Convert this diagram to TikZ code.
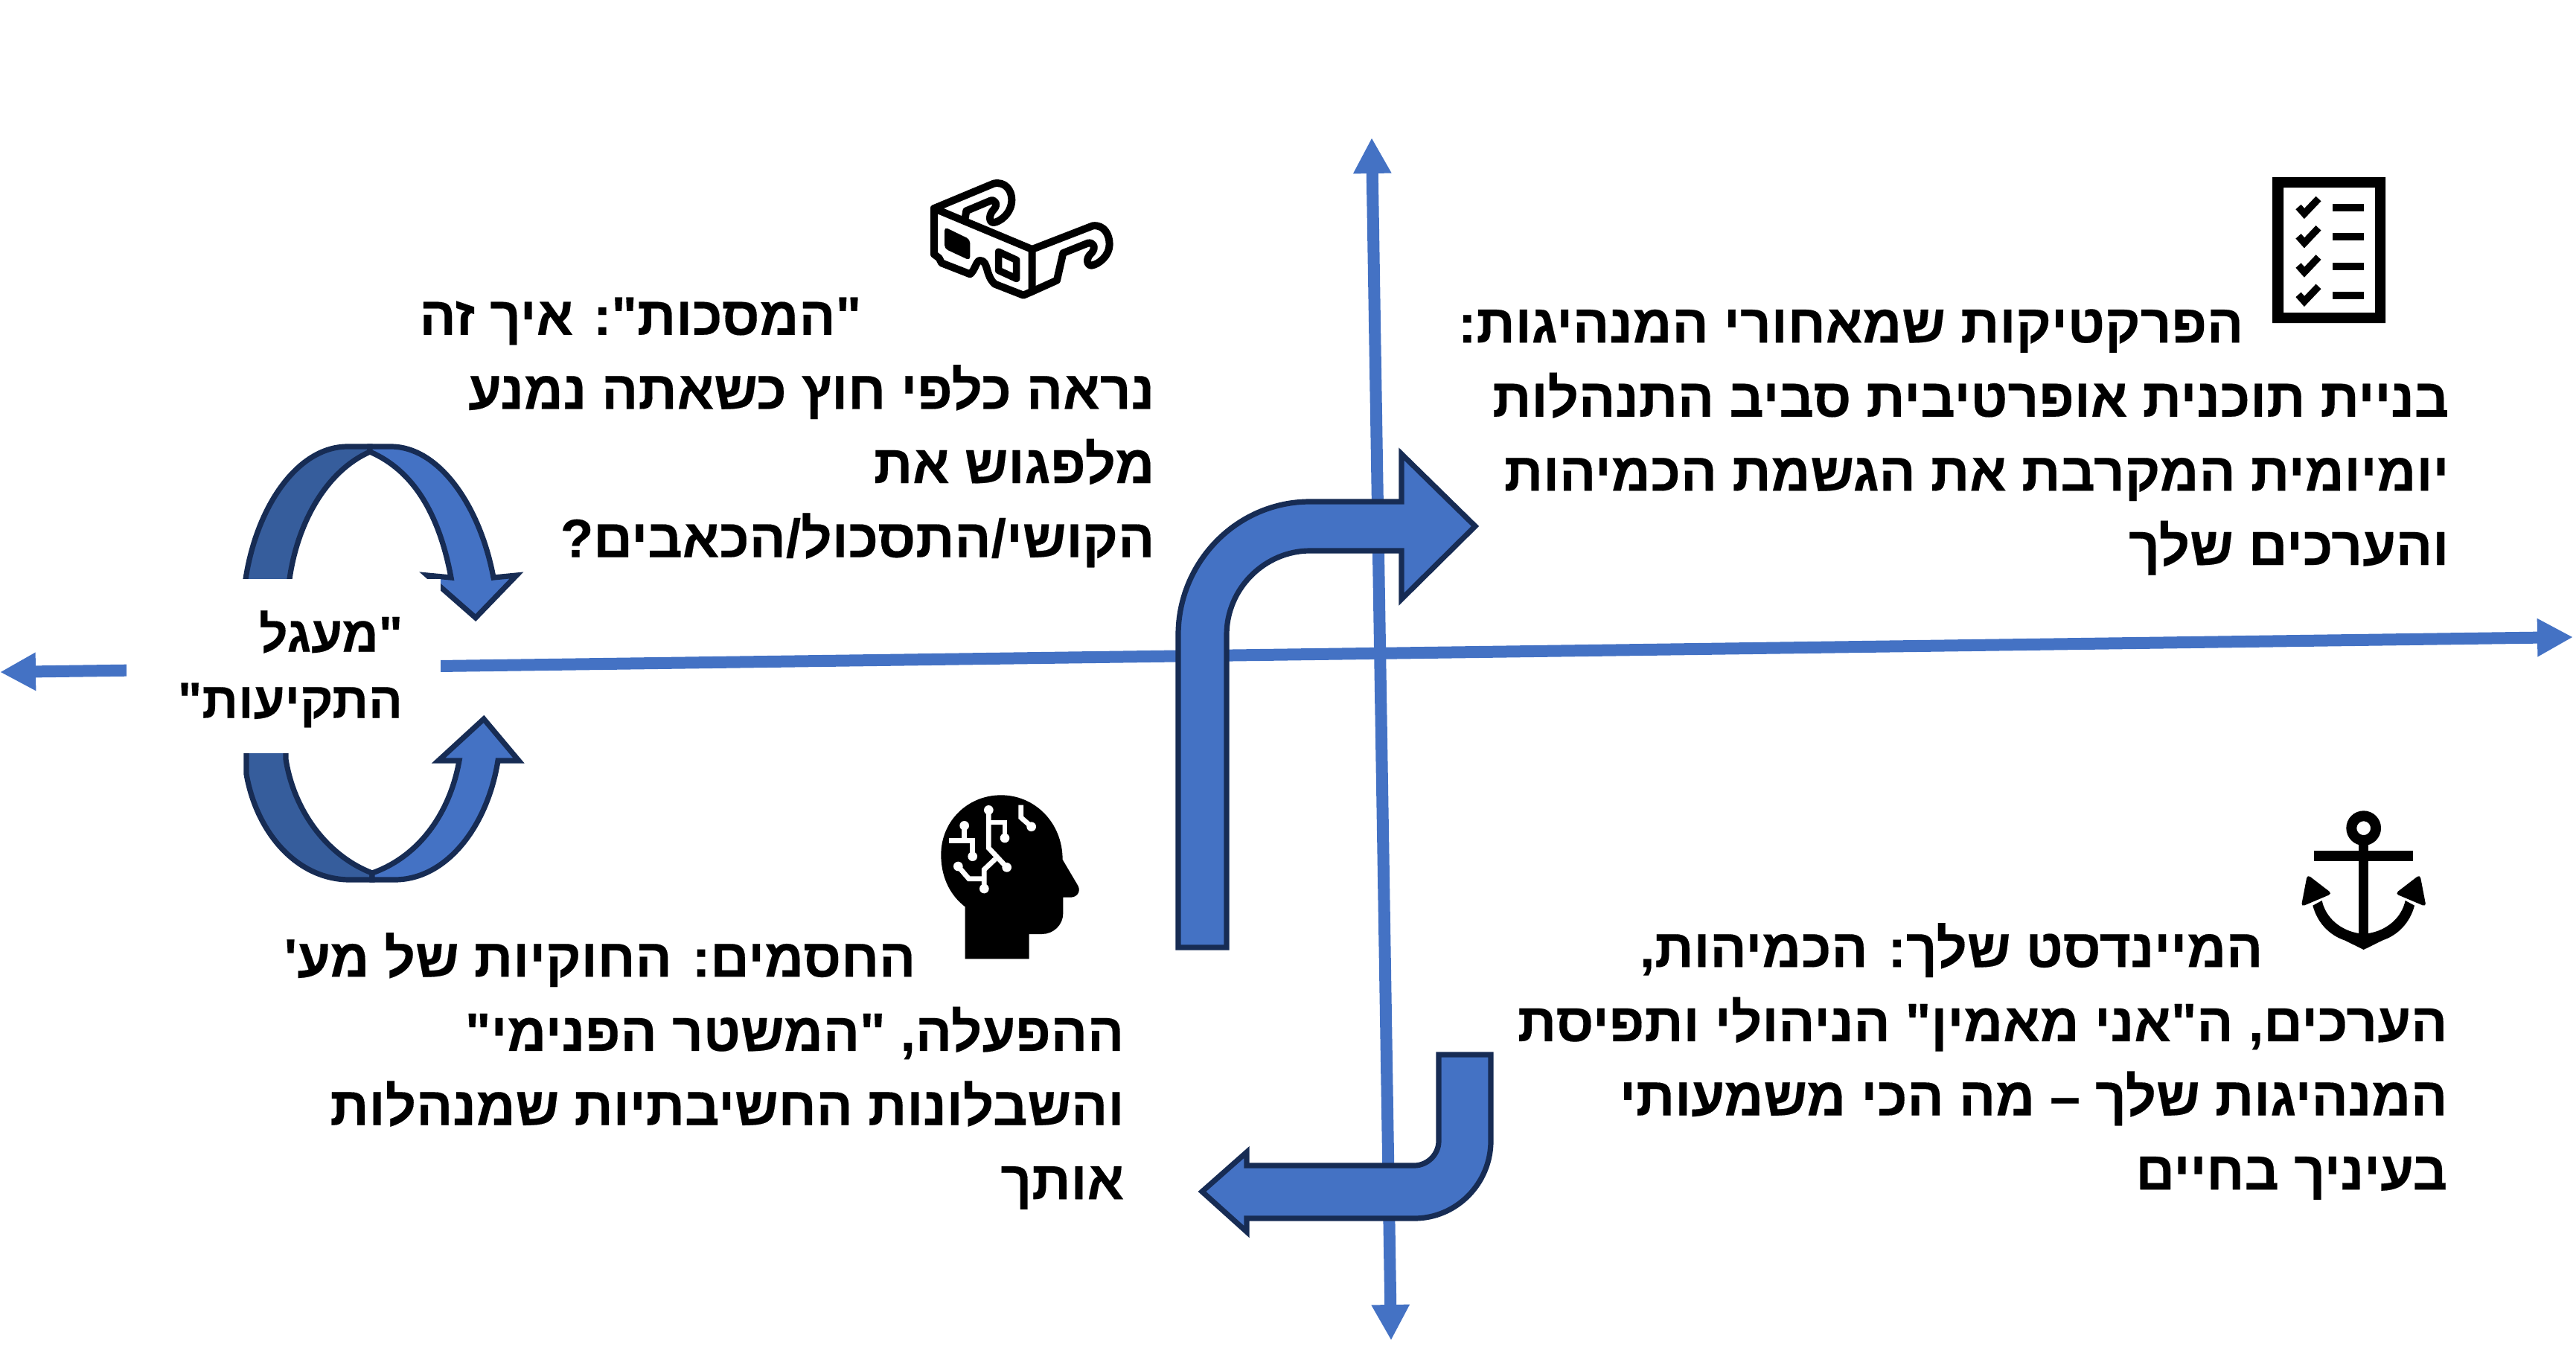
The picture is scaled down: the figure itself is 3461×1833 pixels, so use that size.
\documentclass[tikz,border=0pt]{standalone}
\usepackage{fontspec}
\usetikzlibrary{arrows.meta}
\TeXXeTstate=1
\newfontfamily\hebfont[Script=Hebrew, BoldFeatures={FakeBold=0.25}]{Liberation Sans}
\newcommand{\hebline}[1]{\beginR #1\endR}
\definecolor{axisblue}{HTML}{4472C4}
\definecolor{edgeblue}{HTML}{172C54}
\definecolor{darkblue}{HTML}{365D9C}
\tikzstyle{axisline} =
        [
                draw = axisblue,
                line width = 4pt,
                {Triangle[length = 12pt, width = 12pt]}-{Triangle[length = 12pt, width = 12pt]}
        ]
\tikzstyle{bigarrow} =
        [
                draw = edgeblue,
                fill = axisblue,
                line width = 1.8pt,
                miter limit = 10
        ]
\tikzstyle{backband} =
        [
                bigarrow,
                fill = darkblue
        ]
\tikzstyle{block} =
        [
                rectangle,
                align = right,
                anchor = east,
                inner sep = 0pt,
                font = \hebfont\bfseries\fontsize{18.2}{24.9}\selectfont
        ]
\tikzstyle{loopbox} =
        [
                rectangle,
                fill = white,
                align = right,
                text width = 80pt,
                inner sep = 0pt,
                minimum width = 105.5pt,
                minimum height = 58.5pt,
                font = \hebfont\bfseries\fontsize{17}{22.2}\selectfont
        ]
\tikzstyle{inkline} =
        [
                draw = black,
                line width = 2.5pt,
                line join = round,
                line cap = round
        ]

\begin{document}
\begin{tikzpicture}[x = 0.25pt, y = -0.25pt]
        \useasboundingbox (0,0) rectangle (3461,1833);

        \coordinate (westtip) at (0,903);
        \coordinate (easttip) at (3457,856);
        \coordinate (northtip) at (1843,185);
        \coordinate (southtip) at (1869,1801);

        \path [axisline] (westtip) -- (easttip);
        \path [axisline] (northtip) -- (southtip);

        % upper loop
        \path [backband] (330,830) -- (330,778) .. controls (345,680) and (400,600) .. (467,600) -- (497,600) -- (497,607) .. controls (440,632) and (400,700) .. (389,778) -- (389,830) -- cycle;
        \path [bigarrow] (497,607) -- (497,600) -- (525,600) .. controls (590,600) and (645,680) .. (663,776) -- (694,773) -- (639,830) -- (574,773) -- (606,776) .. controls (590,690) and (555,632) .. (497,607) -- cycle;
        % lower loop
        \path [backband] (331,980) -- (331,1040) .. controls (345,1120) and (400,1182) .. (470,1182) -- (500,1182) -- (500,1173) .. controls (440,1150) and (395,1090) .. (384,1020) -- (384,980) -- cycle;
        \path [bigarrow] (500,1173) -- (500,1182) -- (530,1182) .. controls (600,1182) and (655,1110) .. (669,1022) -- (697,1022) -- (650,966) -- (589,1022) -- (617,1022) .. controls (605,1090) and (565,1150) .. (500,1173) -- cycle;

        \node [loopbox] (stuckloop) at (381,894.5) {\rule{0pt}{16pt}\hebline{"מעגל}\\\hebline{התקיעות"}};

        % big arrows
        \path [bigarrow] (1583,1273) -- (1583,853) .. controls (1583,755) and (1662,674) .. (1760,674) -- (1883,674) -- (1883,610) -- (1982,707) -- (1883,805) -- (1883,740) -- (1760,740) .. controls (1700,740) and (1648,790) .. (1648,853) -- (1648,1273) -- cycle;
        \path [bigarrow] (2003,1417) -- (2003,1533) .. controls (2003,1590) and (1957,1637) .. (1900,1637) -- (1675,1637) -- (1675,1655) -- (1615,1601) -- (1675,1548) -- (1675,1566) -- (1900,1566) .. controls (1918,1566) and (1933,1551) .. (1933,1533) -- (1933,1417) -- cycle;

        \node [block] (lenses) at (1552,581) {\hebline{"המסכות": איך זה}\hspace*{98.5pt}\\\hebline{נראה כלפי חוץ כשאתה נמנע}\\\hebline{מלפגוש את}\\\hebline{הקושי/התסכול/הכאבים?}};
        \node [block] (practices) at (3291,594) {\hebline{הפרקטיקות שמאחורי המנהיגות:}\hspace*{69pt}\\\hebline{בניית תוכנית אופרטיבית סביב התנהלות}\\\hebline{יומיומית המקרבת את הגשמת הכמיהות}\\\hebline{והערכים שלך}};
        \node [block] (mindset) at (3289,1426) {\hebline{המיינדסט שלך: הכמיהות,}\hspace*{62pt}\\\hebline{הערכים, ה"אני מאמין" הניהולי ותפיסת}\\\hebline{המנהיגות שלך – מה הכי משמעותי}\\\hebline{בעיניך בחיים}};
        \node [block] (barriers) at (1511,1439) {\hebline{החסמים: החוקיות של מע'}\hspace*{70pt}\\\hebline{ההפעלה, "המשטר הפנימי"}\\\hebline{והשבלונות החשיבתיות שמנהלות}\\\hebline{אותך}};

        % checklist icon
        \fill [even odd rule] (3053,238) rectangle (3205,434) (3068,252) rectangle (3191,420);
        \foreach \rowy in {0,39.3,78.6,117.9}
        {
                \draw [line width = 2.4pt, yshift = -\rowy*0.25pt] (3088,278) -- (3096,287) -- (3115,267);
                \fill [yshift = -\rowy*0.25pt] (3134,274) rectangle (3176,284);
        }

        % anchor icon
        \begin{scope}[shift = {(3060,1070)}, x = 0.08333pt, y = -0.08333pt]
                \draw [line width = 3.5pt] (347,128) circle (49);
                \fill (327,170) rectangle (367,600);
                \fill (148,220) rectangle (545,262);
                \fill (142,440) .. controls (160,510) and (210,560) .. (270,580) -- (347,618) -- (424,580) .. controls (484,560) and (534,510) .. (552,440) -- (515,420) .. controls (500,490) and (440,540) .. (367,552) -- (327,552) .. controls (254,540) and (194,490) .. (179,420) -- cycle;
                \fill [rounded corners = 1.2pt] (120,315) -- (220,392) -- (95,445) -- cycle;
                \fill [rounded corners = 1.2pt] (574,315) -- (474,392) -- (599,445) -- cycle;
        \end{scope}

        % head icon
        \begin{scope}[shift = {(1230,1040)}, x = 0.08333pt, y = -0.08333pt]
                \fill (200,745) -- (200,535) .. controls (135,485) and (103,410) .. (103,325) .. controls (103,190) and (210,85) .. (345,85) .. controls (480,85) and (593,195) .. (593,345) -- (655,450) .. controls (668,475) and (650,497) .. (625,497) -- (595,497) -- (595,560) .. controls (595,610) and (555,645) .. (510,645) -- (458,645) -- (458,745) -- cycle;
                \begin{scope}[white, line width = 1.7pt]
                        \draw (197,208) -- (197,268) -- (135,268);
                        \draw (197,268) -- (230,268) -- (230,332);
                        \draw (295,145) -- (295,298) -- (368,376);
                        \draw (295,195) -- (360,195) -- (360,258);
                        \draw (322,342) -- (277,385) -- (277,462);
                        \draw (172,372) -- (215,422) -- (277,422);
                        \draw (425,125) -- (425,175) -- (467,212);
                \end{scope}
                \fill [white] (197,208) circle (19) (230,332) circle (19) (295,145) circle (19) (360,258) circle (19) (368,376) circle (19) (277,462) circle (19) (172,372) circle (19) (467,212) circle (19);
        \end{scope}

        % glasses icon
        \begin{scope}[shift = {(1200,200)}, x = 0.08333pt, y = -0.08333pt]
                \path [inkline] (560,405) -- (165,240) -- (165,425) -- (185,440) -- (195,460) -- (310,505) .. controls (330,490) and (335,450) .. (350,450) .. controls (385,450) and (370,510) .. (410,545) -- (525,590) -- (560,575) -- cycle;
                \path [inkline] (165,240) -- (405,140) .. controls (450,130) and (478,165) .. (478,205) .. controls (478,260) and (430,295) .. (405,297) .. controls (385,297) and (385,265) .. (405,245) .. controls (425,225) and (410,200) .. (390,210) -- (295,250) -- (290,280);
                \path [inkline] (560,405) -- (805,310) .. controls (850,305) and (872,345) .. (872,385) .. controls (872,430) and (830,465) .. (800,470) .. controls (780,470) and (775,440) .. (800,420) .. controls (820,395) and (805,375) .. (785,380) -- (685,420) -- (660,530) -- (560,575);
                \fill [rounded corners = 1.2pt] (207,315) -- (310,365) -- (310,450) -- (207,402) -- cycle;
                \draw [line width = 2.4pt, line join = round] (425,415) -- (497,448) -- (497,523) -- (425,490) -- cycle;
        \end{scope}
\end{tikzpicture}
\end{document}
